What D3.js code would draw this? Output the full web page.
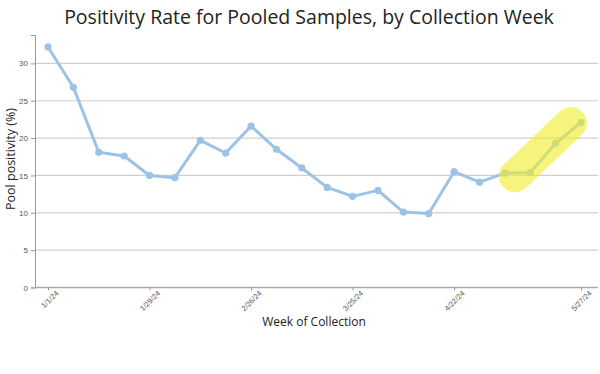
<!DOCTYPE html>
<html>
<head>
<meta charset="utf-8">
<script src="https://cdn.jsdelivr.net/npm/d3@7"></script>
<style>
  body { margin: 0; background: #fff; }
  svg { display: block; font-family: "Open Sans", sans-serif; }
</style>
</head>
<body>
<svg id="chart" width="600" height="374"></svg>
<script>
// weekly collection dates and pooled positivity (%)
const weeks = ["1/1/24","1/8/24","1/15/24","1/22/24","1/29/24","2/5/24","2/12/24","2/19/24",
  "2/26/24","3/4/24","3/11/24","3/18/24","3/25/24","4/1/24","4/8/24","4/15/24",
  "4/22/24","4/29/24","5/6/24","5/13/24","5/20/24","5/27/24"];
const positivity = [32.2, 26.8, 18.1, 17.6, 15.0, 14.7, 19.7, 18.0, 21.6, 18.5, 16.0, 13.4,
  12.2, 13.0, 10.1, 9.9, 15.5, 14.1, 15.3, 15.4, 19.3, 22.1];
const tickLabels = ["1/1/24","1/29/24","2/26/24","3/25/24","4/22/24","5/27/24"];
const yTicks = [0, 5, 10, 15, 20, 25, 30];
// highlight band around the recent rise (week index, value)
const highlight = [[18.4, 14.9], [20.6, 22.0]];

const svg = d3.select("#chart");
const margin = { top: 35, right: 2, bottom: 87, left: 35 };
const W = 600, H = 374;

const data = weeks.map((w, i) => ({ i: i, v: positivity[i] }));

const x = d3.scaleLinear()
  .domain([0, weeks.length - 1])
  .range([48, 581]);
const y = d3.scaleLinear()
  .domain([0, 33.8])
  .range([H - margin.bottom + 0.5, margin.top]);

// gridlines
svg.append("g")
  .selectAll("line")
  .data(yTicks.filter(d => d > 0))
  .enter().append("line")
  .attr("x1", margin.left).attr("x2", W - margin.right)
  .attr("y1", d => y(d)).attr("y2", d => y(d))
  .attr("stroke", "#cfcfcf").attr("stroke-width", 1.2);

// y axis
const yAxis = svg.append("g")
  .attr("transform", `translate(${margin.left},0)`)
  .call(d3.axisLeft(y).tickValues(yTicks).tickSize(4).tickPadding(3));
yAxis.select(".domain").attr("stroke", "#999");
yAxis.selectAll(".tick line").attr("stroke", "#999");
yAxis.selectAll("text").attr("fill", "#555").style("font-family", "Liberation Sans, Arial, sans-serif").style("font-size", "8px");

// x axis
const tickIdx = tickLabels.map(t => weeks.indexOf(t));
const xAxis = svg.append("g")
  .attr("transform", `translate(0,${y(0)})`)
  .call(d3.axisBottom(x).tickValues(tickIdx).tickFormat(i => weeks[i]).tickSize(3).tickSizeOuter(0));
xAxis.select(".domain").attr("d", `M${margin.left},0H${W - margin.right}`).attr("stroke", "#aaa").attr("stroke-width", 1.5);
xAxis.selectAll(".tick line").attr("stroke", "#999");
xAxis.selectAll("text")
  .attr("fill", "#555")
  .style("font-size", "7.5px")
  .attr("text-anchor", "end")
  .attr("dx", "3px").attr("dy", "6px")
  .attr("transform", "rotate(-45)");

// line
const line = d3.line().x(d => x(d.i)).y(d => y(d.v));
svg.append("path")
  .datum(data)
  .attr("d", line)
  .attr("fill", "none")
  .attr("stroke", "#9cc3e7")
  .attr("stroke-width", 3)
  .attr("stroke-linejoin", "round");

svg.append("g")
  .selectAll("circle")
  .data(data)
  .enter().append("circle")
  .attr("cx", d => x(d.i)).attr("cy", d => y(d.v))
  .attr("r", 3.6)
  .attr("fill", "#9cc3e7");

// highlight capsule over the last weeks
svg.append("path")
  .datum(highlight)
  .attr("d", d3.line().x(d => x(d[0])).y(d => y(d[1])))
  .attr("stroke", "rgb(242,236,40)")
  .attr("stroke-opacity", 0.6)
  .attr("stroke-width", 32)
  .attr("stroke-linecap", "round")
  .attr("fill", "none");

// titles
svg.append("text")
  .attr("x", 309).attr("y", 24)
  .attr("text-anchor", "middle")
  .style("font-size", "19.5px")
  .attr("fill", "#222")
  .text("Positivity Rate for Pooled Samples, by Collection Week");

svg.append("text")
  .attr("x", 314).attr("y", 326)
  .attr("text-anchor", "middle")
  .style("font-size", "12px")
  .attr("fill", "#222")
  .text("Week of Collection");

svg.append("text")
  .attr("transform", "translate(15,159) rotate(-90)")
  .attr("text-anchor", "middle")
  .style("font-size", "12.5px")
  .attr("fill", "#222")
  .text("Pool positivity (%)");
</script>
</body>
</html>
